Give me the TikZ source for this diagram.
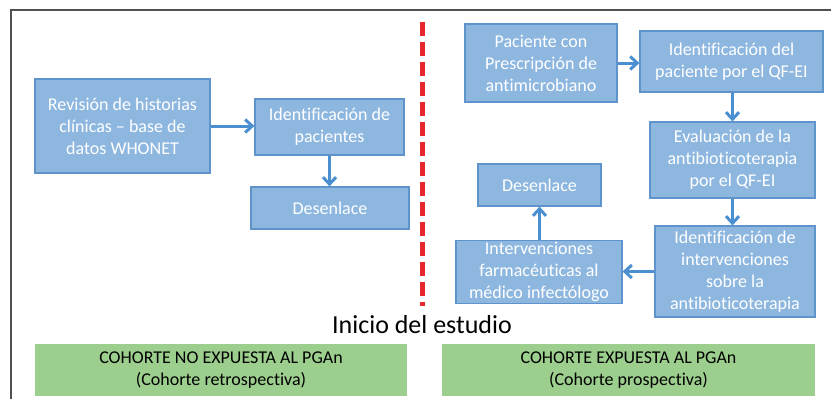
\documentclass[tikz,border=0pt]{standalone}
\usepackage{fontspec}
\setmainfont{Carlito}[Ligatures=CommonOff]
\usetikzlibrary{arrows.meta}
\usetikzlibrary{positioning}
\definecolor{boxblue}{HTML}{8EB7E0}
\definecolor{boxline}{HTML}{5F93CB}
\definecolor{arrowblue}{HTML}{4A8FD0}
\definecolor{boxgreen}{HTML}{9CCF8D}
\definecolor{framegray}{HTML}{505050}
\definecolor{cutred}{HTML}{E8262E}
\newcommand{\boxtext}{\fontsize{18}{22}\selectfont}

\begin{document}
\begin{tikzpicture}[x=1pt, y=-1pt,
                    every node/.style={align=center, inner sep=2pt},
                    stepbox/.style={draw=boxline, line width=1.2pt, fill=boxblue,
                                    text=white, font=\boxtext},
                    cohort/.style={fill=boxgreen, text=black, font=\boxtext,
                                   minimum width=372pt, minimum height=52pt},
                    flow/.style={draw=arrowblue, line width=3pt,
                                 -{Straight Barb[length=7pt, width=13pt]}}]
    \useasboundingbox (0,0) rectangle (831,399);

    % frame
    \draw[framegray, line width=2pt] (11,399) -- (11,10) -- (831,10);

    % retrospective side
    \node[stepbox, minimum width=175pt, minimum height=94pt] (rev) at (122.5,126)
        {Revisión de historias\\clínicas -- base de\\datos WHONET};
    \node[stepbox, minimum width=149pt, minimum height=56pt] (idpac) at (329.5,127)
        {Identificación de\\pacientes};
    \node[stepbox, minimum width=158pt, minimum height=42pt] (desret) at (330,208)
        {Desenlace};

    % prospective side
    \node[stepbox, minimum width=152pt, minimum height=78pt] (pac) at (541,63)
        {Paciente con\\Prescripción de\\antimicrobiano};
    \node[stepbox, minimum width=183pt, minimum height=61pt] (idqf) at (731.5,61.5)
        {Identificación del\\paciente por el QF-EI};
    \node[stepbox, minimum width=165pt, minimum height=76pt] (eval) at (732.5,160)
        {Evaluación de la\\antibioticoterapia\\por el QF-EI};
    \node[stepbox, minimum width=160pt, minimum height=91pt] (interv) at (735,271.5)
        {Identificación de\\intervenciones\\sobre la\\antibioticoterapia};
    \node[stepbox, minimum width=166pt, minimum height=60pt] (farm) at (539,272)
        {Intervenciones\\farmacéuticas al\\médico infectólogo};
    \node[stepbox, minimum width=123pt, minimum height=42pt] (despro) at (539.5,185)
        {Desenlace};

    % start of study
    \coordinate (cuttop) at (422,22);
    \coordinate (cutbot) at (422,306);
    \draw[cutred, line width=5pt, dash pattern=on 14pt off 6pt] (cuttop) -- (cutbot);
    \node[font=\fontsize{26}{31}\selectfont] (inicio) at (422,325) {Inicio del estudio};

    \node[cohort] (noexp) at (221,370)
        {COHORTE NO EXPUESTA AL PGAn\\(Cohorte retrospectiva)};
    \node[cohort, minimum width=373pt] (exp) at (628.5,370)
        {COHORTE EXPUESTA AL PGAn\\(Cohorte prospectiva)};

    \draw[flow] (rev.east) -- (rev.east -| idpac.west);
    \draw[flow] (idpac.south) -- (idpac.south |- desret.north);
    \draw[flow] (pac.east) -- (pac.east -| idqf.west);
    \draw[flow] (idqf.south -| eval.south) -- (eval.north);
    \draw[flow] (eval.south) -- (eval.south |- interv.north);
    \draw[flow] (interv.west) -- (interv.west -| farm.east);
    \draw[flow] (farm.north -| despro.south) -- (despro.south);
\end{tikzpicture}
\end{document}
